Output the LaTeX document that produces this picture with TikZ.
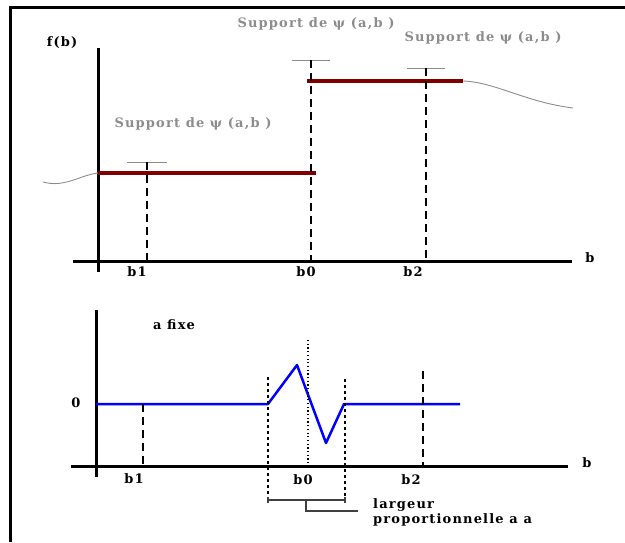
\documentclass[tikz,border=0pt]{standalone}
\usepackage{fontspec}
\setmainfont{DejaVu Serif}
\usepackage{tikz}
\usepackage{xcolor}
\definecolor{suppgray}{RGB}{140,140,140}
\definecolor{stepred}{RGB}{128,0,0}
\newfontfamily\lblfont[LetterSpace=9]{DejaVu Serif}

\begin{document}
\begin{tikzpicture}[x=1pt, y=-1pt, every node/.style={font=\lblfont\bfseries\fontsize{13}{15}\selectfont, inner sep=0pt},
  axis/.style={line width=3pt}, guide/.style={dash pattern=on 8pt off 5pt, line width=1.3pt},
  fineguide/.style={dash pattern=on 3pt off 3pt, line width=1.1pt}, dotguide/.style={dash pattern=on 1.2pt off 2.5pt, line width=1.1pt},
  supptick/.style={suppgray, line width=1pt}, suppline/.style={suppgray, line width=0.9pt},
  stepline/.style={stepred, line width=4pt}, wave/.style={blue, line width=2.5pt},
  supp/.style={text=suppgray}]
\useasboundingbox (0,0) rectangle (625,542);
% frame
\coordinate (fl) at (10,542); \coordinate (fc) at (10,7); \coordinate (fr) at (625,7);
\draw[line width=3pt] (fl)--(fc)--(fr);
% top chart
\coordinate (ty1) at (98,48); \coordinate (ty2) at (98,272);
\coordinate (tx1) at (73,261); \coordinate (tx2) at (572,261);
\draw[axis] (ty1)--(ty2); \draw[axis] (tx1)--(tx2);
\node (fb) at (62,43) {f(b)};
\node (tb) at (590,258) {b};
\coordinate (g0) at (43,182); \coordinate (r1) at (98,173); \coordinate (r2) at (316,173);
\coordinate (r3) at (307,81); \coordinate (r4) at (463,81); \coordinate (g1) at (573,108);
\draw[suppline] (g0) .. controls (65,188) and (80,175) .. (r1);
\draw[suppline] (r4) .. controls (495,82) and (525,102) .. (g1);
\draw[stepline] (r1)--(r2); \draw[stepline] (r3)--(r4);
\foreach \n/\x/\y/\w in {1/147/162/20, 0/311/60/19, 2/426/68/19} {
  \coordinate (tt\n) at (\x,\y); \coordinate (tf\n) at (\x,261);
  \coordinate (tl\n) at (\x-\w,\y); \coordinate (tr\n) at (\x+\w,\y);
  \draw[supptick] (tl\n)--(tr\n);
  \draw[guide] (tt\n)--(tf\n);
}
\node (tb1) at (137,272) {b1};
\node (tb0) at (306,272) {b0};
\node (tb2) at (413,272) {b2};
\node[supp] (s1) at (193,124) {Support de ψ (a,b )};
\node[supp] (s0) at (316,24) {Support de ψ (a,b )};
\node[supp] (s2) at (483,38) {Support de ψ (a,b )};
% bottom chart
\coordinate (by1) at (96,310); \coordinate (by2) at (96,477);
\coordinate (bx1) at (71,466); \coordinate (bx2) at (568,466);
\draw[axis] (by1)--(by2); \draw[axis] (bx1)--(bx2);
\node (bb) at (587,463) {b};
\node (zero) at (76,403) {0};
\node (fixe) at (174,325) {a fixe};
\coordinate (w0) at (96,404); \coordinate (w1) at (268,404); \coordinate (w2) at (297,365);
\coordinate (w3) at (326,443); \coordinate (w4) at (344,404); \coordinate (w5) at (460,404);
\draw[wave, line join=round] (w0)--(w1)--(w2)--(w3)--(w4)--(w5);
\coordinate (d1a) at (143,404); \coordinate (d1b) at (143,466);
\coordinate (d2a) at (423,371); \coordinate (d2b) at (423,466);
\draw[guide] (d1a)--(d1b); \draw[guide] (d2a)--(d2b);
\coordinate (d0a) at (308,340); \coordinate (d0b) at (308,466);
\draw[dotguide] (d0a)--(d0b);
\coordinate (el) at (268,377); \coordinate (elb) at (268,500);
\coordinate (er) at (345,379); \coordinate (erb) at (345,500);
\draw[fineguide] (el)--(elb); \draw[fineguide] (er)--(erb);
\node (bb1) at (134,479) {b1};
\node (bb0) at (303,480) {b0};
\node (bb2) at (411,480) {b2};
% bracket
\coordinate (bm) at (306,500); \coordinate (bk) at (306,511); \coordinate (be) at (358,511);
\draw[line width=1.1pt, black!75] (elb)--(erb) (bm)--(bk)--(be);
\draw[line width=1.1pt, black!75] ([yshift=-3pt]elb)--([yshift=3pt]elb) ([yshift=-3pt]erb)--([yshift=3pt]erb);
\node[anchor=west, align=left] (larg) at (373,512) {largeur\\proportionnelle a a};
\end{tikzpicture}
\end{document}
